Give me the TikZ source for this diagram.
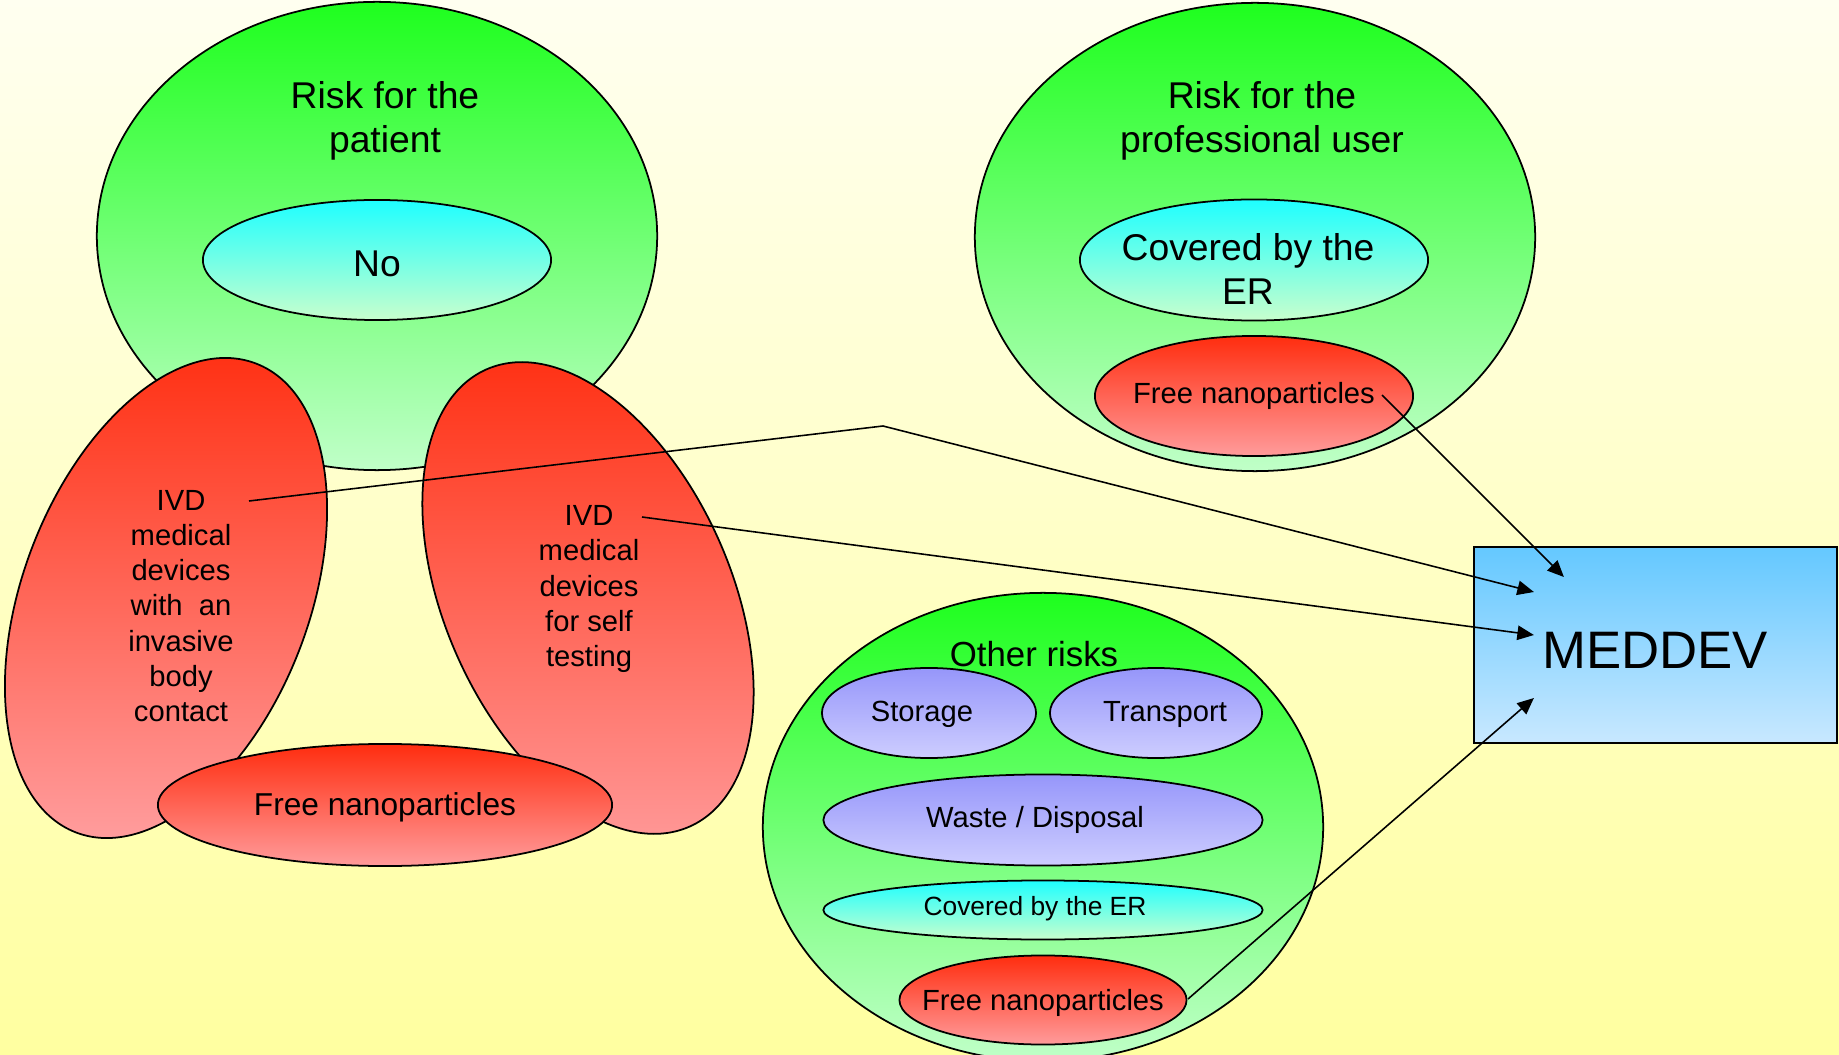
\documentclass[tikz,border=0pt]{standalone}
\usepackage{fontspec}
\setmainfont{Liberation Sans}
\usetikzlibrary{shapes.geometric,arrows.meta,calc}

\definecolor{bgtop}{RGB}{255,255,240}
\definecolor{bgbot}{RGB}{255,255,160}
\definecolor{gtop}{RGB}{30,255,30}
\definecolor{gbot}{RGB}{192,255,200}
\definecolor{ctop}{RGB}{30,255,255}
\definecolor{cbot}{RGB}{200,255,205}
\definecolor{rtop}{RGB}{255,45,15}
\definecolor{rbot}{RGB}{255,155,155}
\definecolor{ltop}{RGB}{150,150,250}
\definecolor{lbot}{RGB}{205,205,255}
\definecolor{btop}{RGB}{100,200,255}
\definecolor{bbot}{RGB}{200,232,255}

\tikzset{
  ell/.style={ellipse, draw=black, line width=0.5pt, inner sep=0pt, outer sep=0pt},
  greenell/.style={ell, top color=gtop, bottom color=gbot},
  cyanell/.style={ell, top color=ctop, bottom color=cbot},
  redell/.style={ell, top color=rtop, bottom color=rbot},
  lavell/.style={ell, top color=ltop, bottom color=lbot},
  txt/.style={inner sep=0pt, align=center, text=black},
  bigtxt/.style={txt, font=\fontsize{10.6}{12.7}\selectfont},
  midtxt/.style={txt, font=\fontsize{9.9}{11.9}\selectfont},
  freetxt/.style={txt, font=\fontsize{9}{10.8}\selectfont},
  smalltxt/.style={txt, font=\fontsize{8.3}{10}\selectfont},
  tinytxt/.style={txt, font=\fontsize{7.5}{9}\selectfont},
  hugetxt/.style={txt, font=\fontsize{15}{18}\selectfont},
  conn/.style={line width=0.45pt, draw=black},
  arr/.style={conn, -{Triangle[length=4.7pt,width=4.1pt]}},
}

\begin{document}
\begin{tikzpicture}[x=0.01cm, y=-0.01cm]
\useasboundingbox (0,0) rectangle (1839,1055);
\clip (0,0) rectangle (1839,1055);
\fill[top color=bgtop, bottom color=bgbot] (0,0) rectangle (1839,1055);

% Patient group
\node[greenell, minimum width=5.6cm, minimum height=4.68cm] (patient) at (377,236) {};
\node[bigtxt] (patientT) at (385,121) {Risk for the\\patient};
\node[cyanell, minimum width=3.48cm, minimum height=1.2cm] (no) at (377,260) {};
\node[bigtxt] (noT) at (377,264) {No};
\node[redell, minimum width=2.86cm, minimum height=5.02cm, rotate=-21] (ivdL) at (166,598) {};
\node[redell, minimum width=2.86cm, minimum height=5.0cm, rotate=24] (ivdR) at (588,598) {};
\node[redell, minimum width=4.54cm, minimum height=1.22cm] (freeL) at (385,805) {};
\node[smalltxt] (ivdLT) at (181,606) {IVD\\medical\\devices\\with~ an\\invasive\\body\\contact};
\node[smalltxt] (ivdRT) at (589,589) {IVD\\medical\\devices\\for self\\testing};
\node[freetxt] (freeLT) at (385,807) {Free nanoparticles};

% Professional user group
\node[greenell, minimum width=5.6cm, minimum height=4.68cm] (prof) at (1255,237) {};
\node[bigtxt] (profT) at (1262,121) {Risk for the\\professional user};
\node[cyanell, minimum width=3.48cm, minimum height=1.21cm] (profER) at (1254,260) {};
\node[bigtxt] (profERT) at (1248,269) {Covered by the\\ER};
\node[redell, minimum width=3.18cm, minimum height=1.2cm] (profFree) at (1254,396) {};
\node[smalltxt] (profFreeT) at (1254,396) {Free nanoparticles};

% Other risks group
\node[greenell, minimum width=5.6cm, minimum height=4.68cm] (other) at (1043,827) {};
\node[midtxt] (otherT) at (1034,654) {Other risks};
\node[lavell, minimum width=2.14cm, minimum height=0.9cm] (storage) at (929,713) {};
\node[smalltxt] (storageT) at (922,714) {Storage};
\node[lavell, minimum width=2.12cm, minimum height=0.9cm] (transport) at (1156,713) {};
\node[smalltxt] (transportT) at (1165,714) {Transport};
\node[lavell, minimum width=4.39cm, minimum height=0.91cm] (waste) at (1043,820) {};
\node[smalltxt] (wasteT) at (1035,820) {Waste / Disposal};
\node[cyanell, minimum width=4.39cm, minimum height=0.59cm] (otherER) at (1043,910) {};
\node[tinytxt] (otherERT) at (1035,909) {Covered by the ER};
\node[redell, minimum width=2.87cm, minimum height=0.89cm] (otherFree) at (1043,1000) {};
\node[smalltxt] (otherFreeT) at (1043,1003) {Free nanoparticles};

% MEDDEV box
\node[draw=black, line width=0.6pt, top color=btop, bottom color=bbot, minimum width=3.63cm, minimum height=1.96cm, inner sep=0pt, outer sep=0pt] (meddev) at (1655.5,645) {};
\node[hugetxt] (meddevT) at (1655,650) {MEDDEV};

% connectors
\coordinate (s1) at (1382,395);
\coordinate (s2) at (249,501);
\coordinate (bend) at (883,426);
\coordinate (s3) at (642,517);
\coordinate (s4) at (1188,999);
\coordinate (t1) at ($(meddev.west)+(90,-68)$);
\coordinate (t2) at ($(meddev.west)+(60,-53)$);
\coordinate (t3) at ($(meddev.west)+(60,-10)$);
\coordinate (t4) at ($(meddev.west)+(60,53)$);

\draw[arr] (s1) -- (t1);
\draw[arr] (s2) -- (bend) -- (t2);
\draw[arr] (s3) -- (t3);
\draw[arr] (s4) -- (t4);
\end{tikzpicture}
\end{document}
